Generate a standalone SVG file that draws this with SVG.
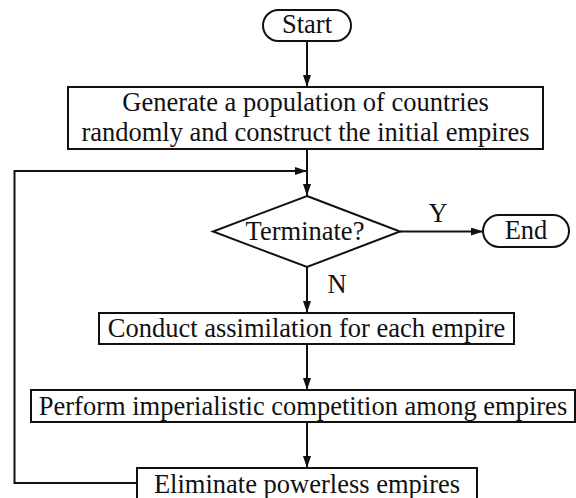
<svg xmlns="http://www.w3.org/2000/svg" width="576" height="498" viewBox="0 0 576 498">
<style>
.s{fill:#fff;stroke:#111;stroke-width:2}
.t{font-family:'Liberation Serif','DejaVu Serif','Noto Serif',serif;font-size:26.5px;fill:#111;text-anchor:middle}
.c{fill:none;stroke:#111;stroke-width:2}
</style>
<defs>
<marker id="a" markerWidth="12" markerHeight="8" refX="12" refY="4" orient="auto" markerUnits="userSpaceOnUse">
<path d="M0,0 L12,4 L0,8 Z" fill="#111"/>
</marker>
</defs>
<rect width="576" height="498" fill="#fff"/>
<g id="connectors">
<path class="c" d="M307,41 V87" marker-end="url(#a)"/>
<path class="c" d="M307,149 V196" marker-end="url(#a)"/>
<path class="c" d="M400,231.5 H483" marker-end="url(#a)"/>
<path class="c" d="M307,267 V313" marker-end="url(#a)"/>
<path class="c" d="M307,344 V390" marker-end="url(#a)"/>
<path class="c" d="M307,422 V468" marker-end="url(#a)"/>
<path class="c" d="M137,483 H14.5 V171 H307" marker-end="url(#a)"/>
<text class="t" x="438" y="222">Y</text>
<text class="t" x="337" y="293">N</text>
</g>
<g id="start">
<rect class="s" x="263" y="10" width="88" height="31" rx="15.5"/>
<text class="t" x="307" y="33">Start</text>
</g>
<g id="init">
<rect class="s" x="68" y="87" width="475" height="62"/>
<text class="t" x="305.5" y="111">Generate a population of countries</text>
<text class="t" x="305.5" y="141">randomly and construct the initial empires</text>
</g>
<g id="terminate">
<polygon class="s" points="307,196 400,231.5 307,267 213,231.5"/>
<text class="t" x="305" y="240">Terminate?</text>
</g>
<g id="end">
<rect class="s" x="483" y="215" width="86" height="32" rx="16"/>
<text class="t" x="526" y="239">End</text>
</g>
<g id="assimilation">
<rect class="s" x="99" y="313" width="415" height="31"/>
<text class="t" x="306.5" y="337">Conduct assimilation for each empire</text>
</g>
<g id="competition">
<rect class="s" x="31" y="390" width="544" height="32"/>
<text class="t" x="303" y="415">Perform imperialistic competition among empires</text>
</g>
<g id="eliminate">
<rect class="s" x="137" y="468" width="340" height="34"/>
<text class="t" x="307" y="493">Eliminate powerless empires</text>
</g>
</svg>
